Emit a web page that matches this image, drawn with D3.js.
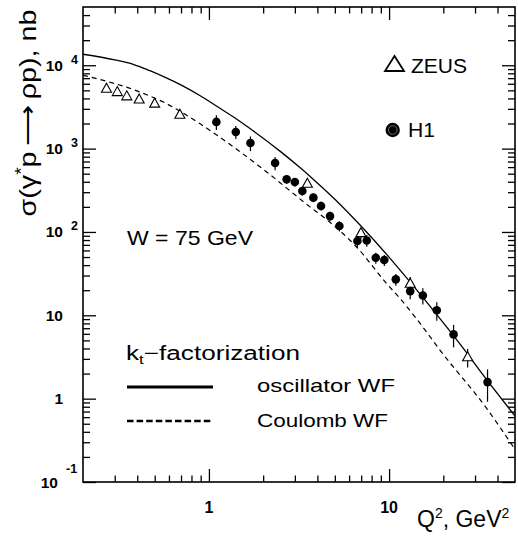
<!DOCTYPE html>
<html>
<head>
    <title>rho electroproduction cross section vs Q2</title>
    <script src="https://d3js.org/d3.v7.min.js"></script>
    <style>
        body { margin: 0; background: #fff; }
        text { font-family: "Liberation Sans", Arial, sans-serif; fill: black; }
    </style>
</head>
<body>
    <svg width="518" height="537"></svg>
    <script>
        // data
        const zeusQ2 = [0.27, 0.31, 0.35, 0.41, 0.50, 0.69, 3.52, 6.98, 13.1, 27.3];
        const zeusSigma = [5250, 4780, 4250, 3900, 3470, 2560, 380, 97, 24, 3.15];
        const zeusErr = [0.06, 0.06, 0.06, 0.06, 0.07, 0.08, 0.1, 0.15, 0.2, 0.25];

        const h1Q2 = [1.1, 1.41, 1.7, 2.33, 2.7, 3.0, 3.3, 3.8, 4.19, 4.7, 5.3, 6.67, 7.52, 8.44, 9.41, 10.9, 13.1, 15.4, 18.4, 22.8, 35.2];
        const h1Sigma = [2090, 1585, 1166, 671, 428, 397, 310, 258, 205, 155, 118, 78, 79, 49, 46, 27, 19.5, 17.3, 11.5, 5.9, 1.58];
        const h1Err = [0.2, 0.18, 0.2, 0.18, 0.12, 0.12, 0.12, 0.12, 0.12, 0.13, 0.14, 0.16, 0.16, 0.15, 0.15, 0.16, 0.2, 0.22, 0.25, 0.3, 0.42];

        // oscillator WF (solid) and Coulomb WF (dashed)
        const oscQ2 = [0.2, 0.3, 0.38, 0.47, 0.58, 0.72, 0.89, 1.1, 1.37, 1.69, 2.5, 3.2, 3.79, 5.0, 6.9, 10.1, 13.1, 18.4, 25.9, 33.4, 50];
        const oscSigma = [13550, 11600, 10280, 8600, 7050, 5620, 4340, 3250, 2390, 1740, 920, 592, 430, 247, 121, 48.6, 25, 10.2, 3.98, 1.9, 0.62];
        const coulQ2 = [0.2, 0.25, 0.38, 0.58, 0.89, 1.37, 2.09, 3.64, 4.32, 6.6, 9.7, 11.5, 14.2, 19.2, 34.9, 49];
        const coulSigma = [7590, 6730, 5110, 3470, 1995, 1045, 525, 200, 151, 66, 24, 15.9, 9.1, 3.8, 0.757, 0.263];

        const xMajor = [1, 10];
        const xMinor = [0.3, 0.4, 0.5, 0.6, 0.7, 0.8, 0.9, 2, 3, 4, 5, 6, 7, 8, 9, 20, 30, 40];
        const yMajor = [0.1, 1, 10, 100, 1000, 10000];
        const yMinor = [];
        [0.1, 1, 10, 100, 1000, 10000].forEach(d => {
            for (let k = 2; k <= 9; k++) if (d * k < 5e4) yMinor.push(d * k);
        });

        const svg = d3.select("svg");
        const pL = 83, pR = 515, pT = 7, pB = 482;

        const x = d3.scaleLog().domain([0.2, 50]).range([pL, pR]);
        const y = d3.scaleLog().domain([0.1, 5e4]).range([pB, pT]);

        const plot = svg.append("g");

        // curves, clipped to frame
        svg.append("clipPath").attr("id", "clip")
            .append("rect").attr("x", pL).attr("y", pT)
            .attr("width", pR - pL).attr("height", pB - pT);

        const line = d3.line()
            .x(d => x(d[0]))
            .y(d => y(d[1]))
            .curve(d3.curveMonotoneX);

        plot.append("path")
            .datum(d3.zip(oscQ2, oscSigma))
            .attr("clip-path", "url(#clip)")
            .attr("fill", "none")
            .attr("stroke", "black")
            .attr("stroke-width", 1.3)
            .attr("d", line);

        plot.append("path")
            .datum(d3.zip(coulQ2, coulSigma))
            .attr("clip-path", "url(#clip)")
            .attr("fill", "none")
            .attr("stroke", "black")
            .attr("stroke-width", 1.2)
            .attr("stroke-dasharray", "5,4")
            .attr("d", line);

        // error bars
        const zeus = zeusQ2.map((q, i) => ({ q: q, s: zeusSigma[i], e: zeusErr[i] }));
        const h1 = h1Q2.map((q, i) => ({ q: q, s: h1Sigma[i], e: h1Err[i] }));

        plot.selectAll(".zerr").data(zeus).enter()
            .append("line")
            .attr("class", "zerr")
            .attr("x1", d => x(d.q)).attr("x2", d => x(d.q))
            .attr("y1", d => y(d.s * (1 - d.e))).attr("y2", d => y(d.s * (1 + d.e)))
            .attr("stroke", "black").attr("stroke-width", 1.2);

        plot.selectAll(".herr").data(h1).enter()
            .append("line")
            .attr("class", "herr")
            .attr("x1", d => x(d.q)).attr("x2", d => x(d.q))
            .attr("y1", d => y(d.s * (1 - d.e))).attr("y2", d => y(d.s * (1 + d.e)))
            .attr("stroke", "black").attr("stroke-width", 1.2);

        // markers
        const tri = (w, h) => `M0,${-h * 0.6}L${w / 2},${h * 0.4}L${-w / 2},${h * 0.4}Z`;

        plot.selectAll(".zeus").data(zeus).enter()
            .append("path")
            .attr("class", "zeus")
            .attr("transform", d => `translate(${x(d.q)},${y(d.s)})`)
            .attr("d", tri(10, 9))
            .attr("fill", "white")
            .attr("stroke", "black")
            .attr("stroke-width", 1.1);

        plot.selectAll(".h1").data(h1).enter()
            .append("circle")
            .attr("class", "h1")
            .attr("cx", d => x(d.q))
            .attr("cy", d => y(d.s))
            .attr("r", 4.3)
            .attr("fill", "black");

        // frame
        svg.append("rect")
            .attr("x", pL).attr("y", pT)
            .attr("width", pR - pL).attr("height", pB - pT)
            .attr("fill", "none").attr("stroke", "black").attr("stroke-width", 1.6);

        // ticks (inward, all four sides)
        function ticks(axis, vals, size, tr) {
            const g = svg.append("g")
                .attr("transform", tr)
                .call(axis.tickValues(vals).tickSize(size).tickSizeOuter(0).tickFormat(""));
            g.select(".domain").remove();
            g.selectAll("line").attr("stroke-width", 1.3);
        }
        ticks(d3.axisTop(x), xMajor, 13, `translate(0,${pB})`);
        ticks(d3.axisTop(x), xMinor, 6.5, `translate(0,${pB})`);
        ticks(d3.axisBottom(x), xMajor, 13, `translate(0,${pT})`);
        ticks(d3.axisBottom(x), xMinor, 6.5, `translate(0,${pT})`);
        ticks(d3.axisRight(y), yMajor, 13, `translate(${pL},0)`);
        ticks(d3.axisRight(y), yMinor, 7, `translate(${pL},0)`);
        ticks(d3.axisLeft(y), yMajor, 13, `translate(${pR},0)`);
        ticks(d3.axisLeft(y), yMinor, 7, `translate(${pR},0)`);

        // tick labels
        const xLabels = ["1", "10"];
        xLabels.forEach((t, i) => {
            svg.append("text")
                .attr("x", x(xMajor[i]))
                .attr("y", 513)
                .attr("text-anchor", "middle")
                .attr("font-size", 16).attr("font-weight", "bold")
                .text(t);
        });

        const yLabelBase = ["10", "1", "10", "10", "10", "10"];
        const yLabelExp = ["-1", "", "", "2", "3", "4"];
        yMajor.forEach((v, i) => {
            const yy = y(v);
            const neg = yLabelExp[i] === "-1";
            svg.append("text")
                .attr("x", neg ? 58 : 63)
                .attr("y", yy + 5.5)
                .attr("text-anchor", "end")
                .attr("font-size", 15.5).attr("font-weight", "bold")
                .text(yLabelBase[i]);
            if (yLabelExp[i]) {
                svg.append("text")
                    .attr("x", neg ? 66 : 71)
                    .attr("y", neg ? yy - 9 : yy - 1.5)
                    .attr("font-size", 12.5).attr("font-weight", "bold")
                    .text(yLabelExp[i]);
            }
        });

        // axis titles
        const xt = svg.append("text")
            .attr("x", 417).attr("y", 527)
            .attr("font-size", 23);
        xt.append("tspan").text("Q");
        xt.append("tspan").attr("dy", -9).attr("font-size", 14).text("2");
        xt.append("tspan").attr("dy", 9).text(", GeV");
        xt.append("tspan").attr("dy", -9).attr("font-size", 14).text("2");

        const yt = svg.append("text")
            .attr("transform", "translate(36,113) rotate(-90)")
            .attr("text-anchor", "middle")
            .attr("font-size", 24)
            .attr("textLength", 207)
            .attr("lengthAdjust", "spacingAndGlyphs");
        yt.append("tspan").text("σ(γ");
        yt.append("tspan").attr("dy", -9).attr("font-size", 16).text("*");
        yt.append("tspan").attr("dy", 9).text("p\u2009\u27F6\u2009ρp), nb");

        // legend: experiments
        svg.append("path")
            .attr("transform", "translate(394.5,65)")
            .attr("d", tri(19, 15))
            .attr("fill", "none").attr("stroke", "black").attr("stroke-width", 1.8);
        svg.append("text")
            .attr("x", 411).attr("y", 72.5)
            .attr("font-size", 21)
            .attr("textLength", 56).attr("lengthAdjust", "spacingAndGlyphs")
            .text("ZEUS");

        svg.append("circle")
            .attr("cx", 392.7).attr("cy", 130).attr("r", 7.2)
            .attr("fill", "black");
        svg.append("circle")
            .attr("cx", 392.7).attr("cy", 130).attr("r", 4.3)
            .attr("fill", "none").attr("stroke", "#777").attr("stroke-width", 0.9);
        svg.append("text")
            .attr("x", 408).attr("y", 137.3)
            .attr("font-size", 20)
            .attr("textLength", 27).attr("lengthAdjust", "spacingAndGlyphs")
            .text("H1");

        svg.append("text")
            .attr("x", 127).attr("y", 245)
            .attr("font-size", 21)
            .attr("textLength", 126).attr("lengthAdjust", "spacingAndGlyphs")
            .text("W = 75 GeV");

        // legend: models
        const kt = svg.append("text")
            .attr("x", 126).attr("y", 360)
            .attr("font-size", 20)
            .attr("textLength", 174).attr("lengthAdjust", "spacingAndGlyphs");
        kt.append("tspan").text("k");
        kt.append("tspan").attr("dy", 4).attr("font-size", 13).text("t");
        kt.append("tspan").attr("dy", -4).text("\u2212factorization");

        svg.append("line")
            .attr("x1", 127).attr("x2", 213).attr("y1", 387).attr("y2", 387)
            .attr("stroke", "black").attr("stroke-width", 3);
        svg.append("line")
            .attr("x1", 127).attr("x2", 213).attr("y1", 421).attr("y2", 421)
            .attr("stroke", "black").attr("stroke-width", 2.6)
            .attr("stroke-dasharray", "6.5,3.1");

        svg.append("text")
            .attr("x", 257).attr("y", 391.7)
            .attr("font-size", 19)
            .attr("textLength", 138).attr("lengthAdjust", "spacingAndGlyphs")
            .text("oscillator WF");
        svg.append("text")
            .attr("x", 257).attr("y", 426.7)
            .attr("font-size", 19)
            .attr("textLength", 131).attr("lengthAdjust", "spacingAndGlyphs")
            .text("Coulomb WF");
    </script>
</body>
</html>
